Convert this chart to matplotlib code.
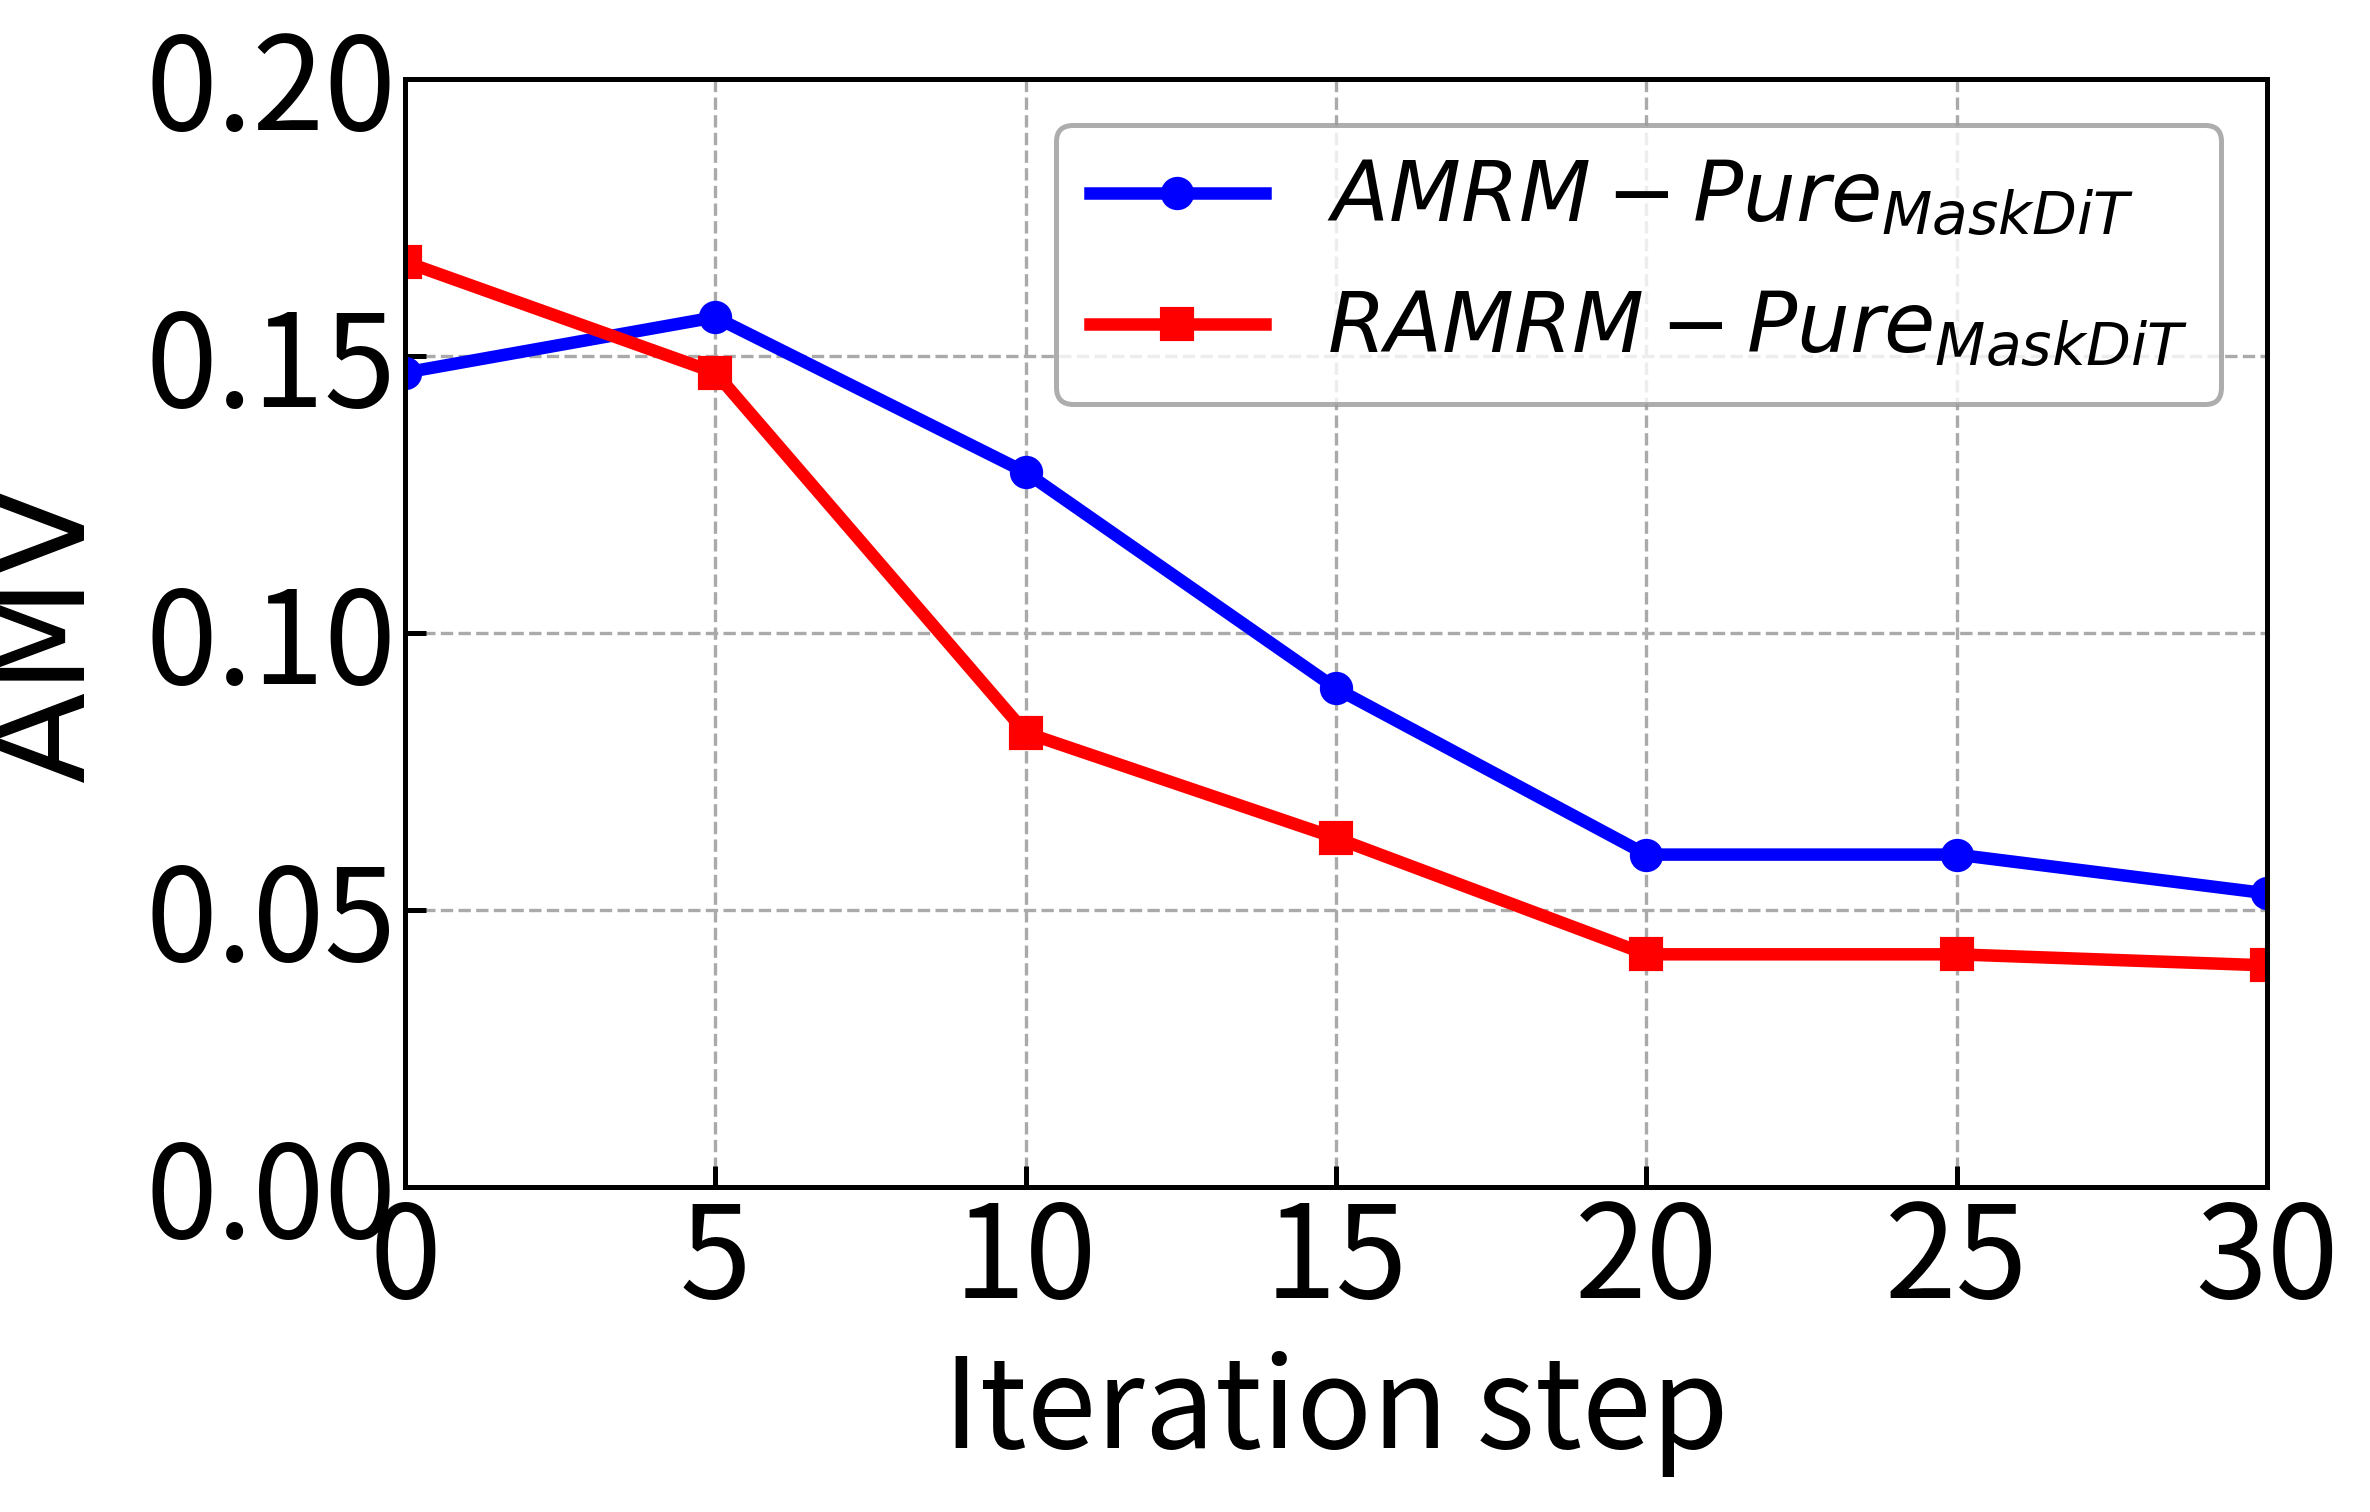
import matplotlib
matplotlib.use("Agg")
import matplotlib.pyplot as plt

# data
steps = [0, 5, 10, 15, 20, 25, 30]
amrm = [0.147, 0.157, 0.129, 0.090, 0.060, 0.060, 0.053]
ramrm = [0.167, 0.147, 0.082, 0.063, 0.042, 0.042, 0.040]
yticks = [0.00, 0.05, 0.10, 0.15, 0.20]
xticks = [0, 5, 10, 15, 20, 25, 30]

tick_font = ['Noto Sans CJK SC', 'DejaVu Sans']

fig = plt.figure(figsize=(7.9, 5.04), dpi=300)
ax = fig.add_axes([405 / 2370, 1 - 1187 / 1512, (2267 - 405) / 2370, (1187 - 79) / 1512])

ax.plot(steps, amrm, color='blue', marker='o', lw=3, markersize=7,
        label=r'$AMRM-Pure_{MaskDiT}$', zorder=3)
ax.plot(steps, ramrm, color='red', marker='s', lw=3, markersize=7,
        label=r'$RAMRM-Pure_{MaskDiT}$', zorder=3)

ax.set_xlim(0, 30)
ax.set_ylim(0, 0.2)
ax.set_xticks(xticks)
ax.set_yticks(yticks)
ax.set_xticklabels([str(v) for v in xticks], family=tick_font, fontsize=31)
ax.set_yticklabels([f"{v:.2f}" for v in yticks], family=tick_font, fontsize=31)
ax.tick_params(direction='in', length=5, width=1.2, pad=2)
for s in ax.spines.values():
    s.set_linewidth(1.2)
    s.set_zorder(4)

ax.grid(True, linestyle='--', color='#aaaaaa', lw=0.8)
ax.set_xlabel("Iteration step", family=tick_font, fontsize=30, labelpad=5)
ax.set_ylabel("AMV", family='DejaVu Sans', fontsize=32, labelpad=8)

leg = ax.legend(loc='upper right', fontsize=20, frameon=True, fancybox=True,
                borderpad=0.4, labelspacing=0.6, handlelength=2.1,
                handletextpad=0.75, borderaxespad=0.55)
leg.get_frame().set_edgecolor('#999999')
leg.get_frame().set_linewidth(1.2)

fig.savefig("out.png", dpi=300)
